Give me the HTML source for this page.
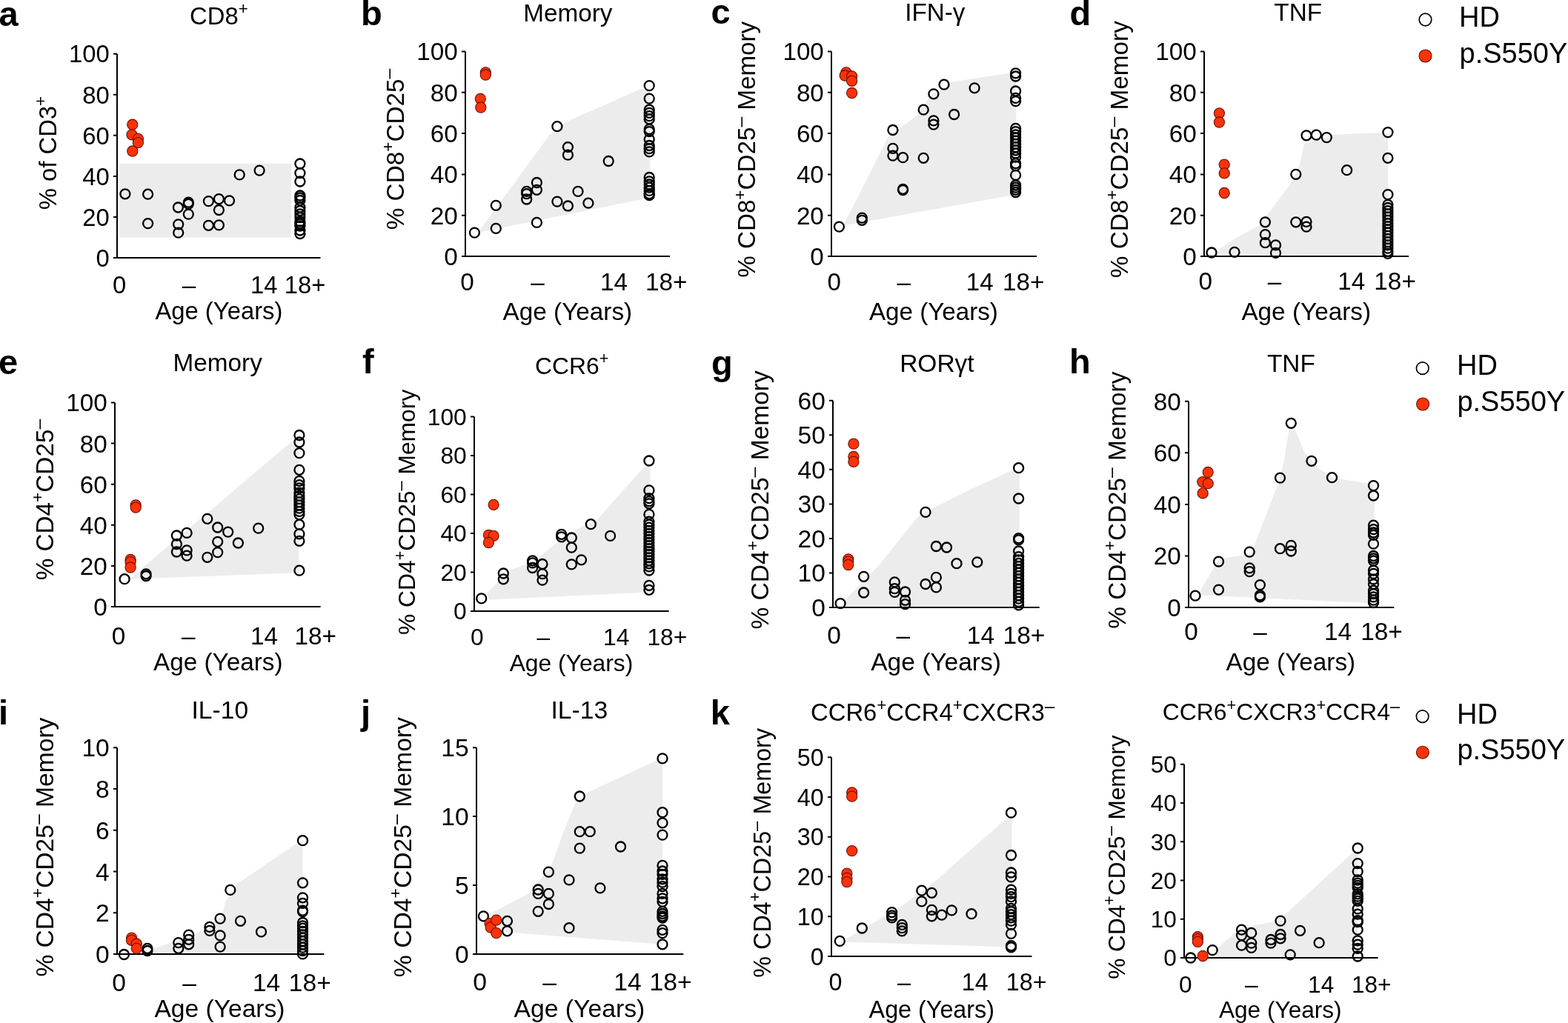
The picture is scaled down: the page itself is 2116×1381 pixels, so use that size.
<!DOCTYPE html>
<html><head><meta charset="utf-8"><title>Figure</title>
<style>
html,body{margin:0;padding:0;background:#fff;}
body{width:2116px;height:1381px;overflow:hidden;}
svg{display:block;}
svg{font-family:"Liberation Sans",Arial,sans-serif;font-size:33px;}
text{fill:#000;}
text.L{font-weight:bold;font-size:47px;}
text.G{font-size:38px;}
.ax{stroke:#000;stroke-width:2;fill:none;}
.w{fill:none;stroke:#000;stroke-width:2.3;}
.r{fill:#fa3309;stroke:#6a1006;stroke-width:1.1;}
</style></head>
<body>
<svg width="2116" height="1381" viewBox="0 0 2116 1381">
<rect width="2116" height="1381" fill="#fff"/>
<g id="pa" style="font-size:32.8px">
<polygon points="161.3,220.7 393.2,220.7 393.2,320.6 161.3,320.6" fill="#ececec"/>
<path d="M158 72.7V348M153.5 348H432.5" class="ax"/>
<path d="M153 348H158M153 292.9H158M153 237.9H158M153 182.8H158M153 127.8H158M153 72.7H158" class="ax"/>
<text x="147.8" y="359.7" text-anchor="end">0</text>
<text x="147.8" y="304.7" text-anchor="end">20</text>
<text x="147.8" y="249.6" text-anchor="end">40</text>
<text x="147.8" y="194.6" text-anchor="end">60</text>
<text x="147.8" y="139.5" text-anchor="end">80</text>
<text x="147.8" y="84.4" text-anchor="end">100</text>
<text x="161.2" y="396" text-anchor="middle">0</text>
<text x="255" y="396" text-anchor="middle">–</text>
<text x="356.3" y="396" text-anchor="middle">14</text>
<text x="411.5" y="396" text-anchor="middle">18+</text>
<text x="295.4" y="431.1" text-anchor="middle">Age (Years)</text>
<text x="295.4" y="32.8" text-anchor="middle" style="font-size:32.8px">CD8<tspan style="font-size:22.3px" dy="-13.8">+</tspan></text>
<text transform="translate(75.8 206.6) rotate(-90)" text-anchor="middle">% of CD3<tspan style="font-size:22.3px" dy="-13.8">+</tspan></text>
<text x="-1.5" y="34.6" class="L">a</text>
<circle cx="168.9" cy="261.8" r="6.5" class="w"/>
<circle cx="199.6" cy="262.2" r="6.5" class="w"/>
<circle cx="199.6" cy="301.6" r="6.5" class="w"/>
<circle cx="240.4" cy="280" r="6.5" class="w"/>
<circle cx="254.3" cy="273.2" r="6.5" class="w"/>
<circle cx="254.3" cy="275.4" r="6.5" class="w"/>
<circle cx="254.3" cy="289.1" r="6.5" class="w"/>
<circle cx="240.7" cy="302.8" r="6.5" class="w"/>
<circle cx="240.7" cy="314.2" r="6.5" class="w"/>
<circle cx="281.4" cy="271.6" r="6.5" class="w"/>
<circle cx="295.4" cy="268.6" r="6.5" class="w"/>
<circle cx="309.5" cy="270.9" r="6.5" class="w"/>
<circle cx="295.4" cy="283.5" r="6.5" class="w"/>
<circle cx="281.4" cy="304.3" r="6.5" class="w"/>
<circle cx="295.4" cy="303.9" r="6.5" class="w"/>
<circle cx="323.2" cy="235.9" r="6.5" class="w"/>
<circle cx="350.1" cy="230.1" r="6.5" class="w"/>
<circle cx="404.9" cy="221" r="6.5" class="w"/>
<circle cx="404.9" cy="233.6" r="6.5" class="w"/>
<circle cx="404.9" cy="245" r="6.5" class="w"/>
<circle cx="404.9" cy="264" r="6.5" class="w"/>
<circle cx="404.9" cy="267" r="6.5" class="w"/>
<circle cx="404.9" cy="270.5" r="6.5" class="w"/>
<circle cx="404.9" cy="280" r="6.5" class="w"/>
<circle cx="404.9" cy="284.5" r="6.5" class="w"/>
<circle cx="404.9" cy="289" r="6.5" class="w"/>
<circle cx="404.9" cy="293.5" r="6.5" class="w"/>
<circle cx="404.9" cy="299" r="6.5" class="w"/>
<circle cx="404.9" cy="302" r="6.5" class="w"/>
<circle cx="404.9" cy="305" r="6.5" class="w"/>
<circle cx="404.9" cy="311" r="6.5" class="w"/>
<circle cx="404.9" cy="315.5" r="6.5" class="w"/>
<circle cx="178.8" cy="168.2" r="7.1" class="r"/>
<circle cx="178" cy="181.9" r="7.1" class="r"/>
<circle cx="186.4" cy="187.3" r="7.1" class="r"/>
<circle cx="186.4" cy="192.6" r="7.1" class="r"/>
<circle cx="178.8" cy="204" r="7.1" class="r"/>
</g>
<g id="pb" style="font-size:33.3px">
<polygon points="647.3,311 741.8,181.8 762.8,165 865.7,119.8 877.2,123 877.2,266.8 649.4,313" fill="#ececec"/>
<path d="M628 69.4V346M623.5 346H904" class="ax"/>
<path d="M623 346H628M623 290.7H628M623 235.4H628M623 180H628M623 124.7H628M623 69.4H628" class="ax"/>
<text x="617.8" y="357.9" text-anchor="end">0</text>
<text x="617.8" y="302.6" text-anchor="end">20</text>
<text x="617.8" y="247.3" text-anchor="end">40</text>
<text x="617.8" y="192" text-anchor="end">60</text>
<text x="617.8" y="136.6" text-anchor="end">80</text>
<text x="617.8" y="81.3" text-anchor="end">100</text>
<text x="630.4" y="391.8" text-anchor="middle">0</text>
<text x="725.4" y="391.8" text-anchor="middle">–</text>
<text x="828.6" y="391.8" text-anchor="middle">14</text>
<text x="899.3" y="391.8" text-anchor="middle">18+</text>
<text x="765.9" y="431.5" text-anchor="middle">Age (Years)</text>
<text x="766.3" y="28.6" text-anchor="middle" style="font-size:33.3px">Memory</text>
<text transform="translate(544.7 201.5) rotate(-90)" text-anchor="middle">% CD8<tspan style="font-size:22.6px" dy="-14.0">+</tspan><tspan dy="14.0">CD25</tspan><tspan style="font-size:24.6px" dy="-12.3">–</tspan></text>
<text x="487" y="33.9" class="L">b</text>
<circle cx="640.4" cy="314.1" r="6.5" class="w"/>
<circle cx="669.3" cy="277.3" r="6.5" class="w"/>
<circle cx="669.3" cy="308.4" r="6.5" class="w"/>
<circle cx="710.7" cy="258.4" r="6.5" class="w"/>
<circle cx="710.7" cy="261.6" r="6.5" class="w"/>
<circle cx="710.7" cy="269" r="6.5" class="w"/>
<circle cx="724.4" cy="246.5" r="6.5" class="w"/>
<circle cx="724.4" cy="256.3" r="6.5" class="w"/>
<circle cx="724.4" cy="300.4" r="6.5" class="w"/>
<circle cx="751.9" cy="170.7" r="6.5" class="w"/>
<circle cx="751.9" cy="272.1" r="6.5" class="w"/>
<circle cx="766.4" cy="198.6" r="6.5" class="w"/>
<circle cx="766.4" cy="209.1" r="6.5" class="w"/>
<circle cx="766.4" cy="278" r="6.5" class="w"/>
<circle cx="780" cy="258.4" r="6.5" class="w"/>
<circle cx="793.9" cy="274.2" r="6.5" class="w"/>
<circle cx="821.2" cy="217.5" r="6.5" class="w"/>
<circle cx="876.2" cy="115.6" r="6.5" class="w"/>
<circle cx="876.2" cy="133.1" r="6.5" class="w"/>
<circle cx="876.2" cy="148.2" r="6.5" class="w"/>
<circle cx="876.2" cy="152.4" r="6.5" class="w"/>
<circle cx="876.2" cy="156.6" r="6.5" class="w"/>
<circle cx="876.2" cy="160.8" r="6.5" class="w"/>
<circle cx="876.2" cy="174.4" r="6.5" class="w"/>
<circle cx="876.2" cy="177.6" r="6.5" class="w"/>
<circle cx="876.2" cy="188.1" r="6.5" class="w"/>
<circle cx="876.2" cy="196.5" r="6.5" class="w"/>
<circle cx="876.2" cy="200.7" r="6.5" class="w"/>
<circle cx="876.2" cy="204.9" r="6.5" class="w"/>
<circle cx="876.2" cy="239.5" r="6.5" class="w"/>
<circle cx="876.2" cy="244.8" r="6.5" class="w"/>
<circle cx="876.2" cy="249" r="6.5" class="w"/>
<circle cx="876.2" cy="253.2" r="6.5" class="w"/>
<circle cx="876.2" cy="257.4" r="6.5" class="w"/>
<circle cx="876.2" cy="261.6" r="6.5" class="w"/>
<circle cx="876.2" cy="263.7" r="6.5" class="w"/>
<circle cx="655.3" cy="97.8" r="7.1" class="r"/>
<circle cx="655.3" cy="101" r="7.1" class="r"/>
<circle cx="648.3" cy="133.5" r="7.1" class="r"/>
<circle cx="648.8" cy="145" r="7.1" class="r"/>
</g>
<g id="pc" style="font-size:33.2px">
<polygon points="1138.1,304.6 1199,183.9 1236.8,156.6 1255.7,129.3 1285.1,110.4 1361.7,98.8 1371.2,102 1371.2,262.6" fill="#ececec"/>
<path d="M1122 69.4V346M1117.5 346H1399" class="ax"/>
<path d="M1117 346H1122M1117 290.7H1122M1117 235.4H1122M1117 180H1122M1117 124.7H1122M1117 69.4H1122" class="ax"/>
<text x="1111.8" y="357.9" text-anchor="end">0</text>
<text x="1111.8" y="302.6" text-anchor="end">20</text>
<text x="1111.8" y="247.2" text-anchor="end">40</text>
<text x="1111.8" y="191.9" text-anchor="end">60</text>
<text x="1111.8" y="136.6" text-anchor="end">80</text>
<text x="1111.8" y="81.3" text-anchor="end">100</text>
<text x="1125.7" y="391.8" text-anchor="middle">0</text>
<text x="1219.7" y="391.8" text-anchor="middle">–</text>
<text x="1322.2" y="391.8" text-anchor="middle">14</text>
<text x="1381.2" y="391.8" text-anchor="middle">18+</text>
<text x="1259.9" y="431.5" text-anchor="middle">Age (Years)</text>
<text x="1261.8" y="28.4" text-anchor="middle" style="font-size:33.2px">IFN-γ</text>
<text transform="translate(1019.4 201.8) rotate(-90)" text-anchor="middle">% CD8<tspan style="font-size:22.6px" dy="-13.9">+</tspan><tspan dy="13.9">CD25</tspan><tspan style="font-size:24.6px" dy="-12.3">–</tspan><tspan dy="12.3"> Memory</tspan></text>
<text x="959.5" y="31.6" class="L">c</text>
<circle cx="1132.4" cy="306.1" r="6.5" class="w"/>
<circle cx="1163.3" cy="294.1" r="6.5" class="w"/>
<circle cx="1163.3" cy="297.3" r="6.5" class="w"/>
<circle cx="1204.9" cy="175.5" r="6.5" class="w"/>
<circle cx="1204.9" cy="200.3" r="6.5" class="w"/>
<circle cx="1204.9" cy="210.1" r="6.5" class="w"/>
<circle cx="1218.5" cy="212.7" r="6.5" class="w"/>
<circle cx="1218.5" cy="255.3" r="6.5" class="w"/>
<circle cx="1218.5" cy="256.5" r="6.5" class="w"/>
<circle cx="1246.2" cy="148.2" r="6.5" class="w"/>
<circle cx="1246.2" cy="213.3" r="6.5" class="w"/>
<circle cx="1259.9" cy="126.8" r="6.5" class="w"/>
<circle cx="1259.9" cy="162.9" r="6.5" class="w"/>
<circle cx="1259.9" cy="168.1" r="6.5" class="w"/>
<circle cx="1274" cy="114.2" r="6.5" class="w"/>
<circle cx="1287.6" cy="154.5" r="6.5" class="w"/>
<circle cx="1315.1" cy="118.8" r="6.5" class="w"/>
<circle cx="1370.6" cy="98.8" r="6.5" class="w"/>
<circle cx="1370.6" cy="103" r="6.5" class="w"/>
<circle cx="1370.6" cy="123" r="6.5" class="w"/>
<circle cx="1370.6" cy="132.4" r="6.5" class="w"/>
<circle cx="1370.6" cy="136.6" r="6.5" class="w"/>
<circle cx="1370.6" cy="173.4" r="6.5" class="w"/>
<circle cx="1370.6" cy="177.6" r="6.5" class="w"/>
<circle cx="1370.6" cy="181.8" r="6.5" class="w"/>
<circle cx="1370.6" cy="186" r="6.5" class="w"/>
<circle cx="1370.6" cy="190.2" r="6.5" class="w"/>
<circle cx="1370.6" cy="194.4" r="6.5" class="w"/>
<circle cx="1370.6" cy="198.6" r="6.5" class="w"/>
<circle cx="1370.6" cy="202.8" r="6.5" class="w"/>
<circle cx="1370.6" cy="207" r="6.5" class="w"/>
<circle cx="1370.6" cy="212.2" r="6.5" class="w"/>
<circle cx="1370.6" cy="220.6" r="6.5" class="w"/>
<circle cx="1370.6" cy="223.8" r="6.5" class="w"/>
<circle cx="1370.6" cy="236.4" r="6.5" class="w"/>
<circle cx="1370.6" cy="250" r="6.5" class="w"/>
<circle cx="1370.6" cy="253.2" r="6.5" class="w"/>
<circle cx="1370.6" cy="256.3" r="6.5" class="w"/>
<circle cx="1370.6" cy="259.5" r="6.5" class="w"/>
<circle cx="1141.9" cy="97.8" r="7.1" class="r"/>
<circle cx="1140.2" cy="102" r="7.1" class="r"/>
<circle cx="1149.6" cy="103" r="7.1" class="r"/>
<circle cx="1149.6" cy="109.3" r="7.1" class="r"/>
<circle cx="1149.6" cy="125.5" r="7.1" class="r"/>
</g>
<g id="pd" style="font-size:33.3px">
<polygon points="1642.3,342.4 1644.4,337.2 1667.5,321.4 1699,304.6 1715.8,282.6 1741,249 1753.6,223.8 1759.9,194.4 1799.8,181.8 1860.7,179.3 1873.3,180.7 1873.3,249 1873.3,343.5" fill="#ececec"/>
<path d="M1625 69.4V346M1620.5 346H1901" class="ax"/>
<path d="M1620 346H1625M1620 290.7H1625M1620 235.4H1625M1620 180H1625M1620 124.7H1625M1620 69.4H1625" class="ax"/>
<text x="1614.8" y="357.9" text-anchor="end">0</text>
<text x="1614.8" y="302.6" text-anchor="end">20</text>
<text x="1614.8" y="247.3" text-anchor="end">40</text>
<text x="1614.8" y="192" text-anchor="end">60</text>
<text x="1614.8" y="136.6" text-anchor="end">80</text>
<text x="1614.8" y="81.3" text-anchor="end">100</text>
<text x="1626.8" y="390.9" text-anchor="middle">0</text>
<text x="1719.9" y="390.9" text-anchor="middle">–</text>
<text x="1823.8" y="390.9" text-anchor="middle">14</text>
<text x="1882.6" y="390.9" text-anchor="middle">18+</text>
<text x="1762.7" y="431.5" text-anchor="middle">Age (Years)</text>
<text x="1751.7" y="28.4" text-anchor="middle" style="font-size:33.3px">TNF</text>
<text transform="translate(1522.4 201.7) rotate(-90)" text-anchor="middle">% CD8<tspan style="font-size:22.6px" dy="-14.0">+</tspan><tspan dy="14.0">CD25</tspan><tspan style="font-size:24.6px" dy="-12.3">–</tspan><tspan dy="12.3"> Memory</tspan></text>
<text x="1443.5" y="33.9" class="L">d</text>
<circle cx="1635" cy="341" r="6.5" class="w"/>
<circle cx="1666" cy="340.3" r="6.5" class="w"/>
<circle cx="1707.4" cy="299.8" r="6.5" class="w"/>
<circle cx="1707.4" cy="316.6" r="6.5" class="w"/>
<circle cx="1707.4" cy="327.7" r="6.5" class="w"/>
<circle cx="1721.5" cy="330.9" r="6.5" class="w"/>
<circle cx="1721.5" cy="341.4" r="6.5" class="w"/>
<circle cx="1748.8" cy="235.3" r="6.5" class="w"/>
<circle cx="1748.8" cy="299.8" r="6.5" class="w"/>
<circle cx="1763" cy="182.8" r="6.5" class="w"/>
<circle cx="1763" cy="299.4" r="6.5" class="w"/>
<circle cx="1763" cy="306.1" r="6.5" class="w"/>
<circle cx="1776.3" cy="182.2" r="6.5" class="w"/>
<circle cx="1790.3" cy="185.6" r="6.5" class="w"/>
<circle cx="1817.6" cy="229.7" r="6.5" class="w"/>
<circle cx="1872.9" cy="178.6" r="6.5" class="w"/>
<circle cx="1872.9" cy="213.3" r="6.5" class="w"/>
<circle cx="1872.9" cy="262.6" r="6.5" class="w"/>
<circle cx="1872.9" cy="276.3" r="6.5" class="w"/>
<circle cx="1872.9" cy="280.5" r="6.5" class="w"/>
<circle cx="1872.9" cy="284.7" r="6.5" class="w"/>
<circle cx="1872.9" cy="288.9" r="6.5" class="w"/>
<circle cx="1872.9" cy="293.1" r="6.5" class="w"/>
<circle cx="1872.9" cy="297.3" r="6.5" class="w"/>
<circle cx="1872.9" cy="301.5" r="6.5" class="w"/>
<circle cx="1872.9" cy="305.7" r="6.5" class="w"/>
<circle cx="1872.9" cy="309.9" r="6.5" class="w"/>
<circle cx="1872.9" cy="314.1" r="6.5" class="w"/>
<circle cx="1872.9" cy="318.3" r="6.5" class="w"/>
<circle cx="1872.9" cy="322.5" r="6.5" class="w"/>
<circle cx="1872.9" cy="326.7" r="6.5" class="w"/>
<circle cx="1872.9" cy="330.9" r="6.5" class="w"/>
<circle cx="1872.9" cy="335.1" r="6.5" class="w"/>
<circle cx="1872.9" cy="339.3" r="6.5" class="w"/>
<circle cx="1872.9" cy="342.4" r="6.5" class="w"/>
<circle cx="1645.4" cy="152.8" r="7.1" class="r"/>
<circle cx="1645.4" cy="165" r="7.1" class="r"/>
<circle cx="1652.2" cy="222.1" r="7.1" class="r"/>
<circle cx="1652.2" cy="233.9" r="7.1" class="r"/>
<circle cx="1652.2" cy="260.5" r="7.1" class="r"/>
</g>
<g id="pe" style="font-size:33.3px">
<polygon points="174.4,781.7 393.8,595.9 403.3,598 403.3,773.3" fill="#ececec"/>
<path d="M155 543.5V819M150.5 819H432.6" class="ax"/>
<path d="M150 819H155M150 763.9H155M150 708.8H155M150 653.7H155M150 598.6H155M150 543.5H155" class="ax"/>
<text x="144.8" y="830.9" text-anchor="end">0</text>
<text x="144.8" y="775.8" text-anchor="end">20</text>
<text x="144.8" y="720.7" text-anchor="end">40</text>
<text x="144.8" y="665.6" text-anchor="end">60</text>
<text x="144.8" y="610.5" text-anchor="end">80</text>
<text x="144.8" y="555.4" text-anchor="end">100</text>
<text x="160" y="870.1" text-anchor="middle">0</text>
<text x="254.2" y="870.1" text-anchor="middle">–</text>
<text x="356.6" y="870.1" text-anchor="middle">14</text>
<text x="425.8" y="870.1" text-anchor="middle">18+</text>
<text x="294.3" y="904.9" text-anchor="middle">Age (Years)</text>
<text x="293.7" y="501.4" text-anchor="middle" style="font-size:33.3px">Memory</text>
<text transform="translate(72.1 674.6) rotate(-90)" text-anchor="middle">% CD4<tspan style="font-size:22.6px" dy="-14.0">+</tspan><tspan dy="14.0">CD25</tspan><tspan style="font-size:24.6px" dy="-12.3">–</tspan></text>
<text x="-2" y="504.5" class="L">e</text>
<circle cx="168.1" cy="781.7" r="6.5" class="w"/>
<circle cx="197.1" cy="774.8" r="6.5" class="w"/>
<circle cx="197.1" cy="777.5" r="6.5" class="w"/>
<circle cx="238.4" cy="723" r="6.5" class="w"/>
<circle cx="238.4" cy="734.5" r="6.5" class="w"/>
<circle cx="238.4" cy="745" r="6.5" class="w"/>
<circle cx="252.1" cy="719.4" r="6.5" class="w"/>
<circle cx="252.1" cy="742.9" r="6.5" class="w"/>
<circle cx="252.1" cy="750.2" r="6.5" class="w"/>
<circle cx="279.8" cy="700.3" r="6.5" class="w"/>
<circle cx="279.8" cy="752.3" r="6.5" class="w"/>
<circle cx="293.7" cy="712" r="6.5" class="w"/>
<circle cx="293.7" cy="731.3" r="6.5" class="w"/>
<circle cx="293.7" cy="745.6" r="6.5" class="w"/>
<circle cx="307.7" cy="718.1" r="6.5" class="w"/>
<circle cx="321.4" cy="733" r="6.5" class="w"/>
<circle cx="348.7" cy="713.1" r="6.5" class="w"/>
<circle cx="403.9" cy="587.5" r="6.5" class="w"/>
<circle cx="403.9" cy="597" r="6.5" class="w"/>
<circle cx="403.9" cy="611.6" r="6.5" class="w"/>
<circle cx="403.9" cy="634.3" r="6.5" class="w"/>
<circle cx="403.9" cy="649.4" r="6.5" class="w"/>
<circle cx="403.9" cy="654.7" r="6.5" class="w"/>
<circle cx="403.9" cy="658.9" r="6.5" class="w"/>
<circle cx="403.9" cy="665.2" r="6.5" class="w"/>
<circle cx="403.9" cy="669.4" r="6.5" class="w"/>
<circle cx="403.9" cy="673.6" r="6.5" class="w"/>
<circle cx="403.9" cy="677.8" r="6.5" class="w"/>
<circle cx="403.9" cy="682" r="6.5" class="w"/>
<circle cx="403.9" cy="686.2" r="6.5" class="w"/>
<circle cx="403.9" cy="690.4" r="6.5" class="w"/>
<circle cx="403.9" cy="694.6" r="6.5" class="w"/>
<circle cx="403.9" cy="708.2" r="6.5" class="w"/>
<circle cx="403.9" cy="720.8" r="6.5" class="w"/>
<circle cx="403.9" cy="730.3" r="6.5" class="w"/>
<circle cx="403.9" cy="770.2" r="6.5" class="w"/>
<circle cx="183.2" cy="682" r="7.1" class="r"/>
<circle cx="183.2" cy="685.1" r="7.1" class="r"/>
<circle cx="176.1" cy="755.5" r="7.1" class="r"/>
<circle cx="176.1" cy="758.6" r="7.1" class="r"/>
<circle cx="176.1" cy="766" r="7.1" class="r"/>
</g>
<g id="pf" style="font-size:31.8px">
<polygon points="656.4,801.4 688.8,769 719.2,758.8 751.7,732.5 784.1,711.2 806.4,701.1 869.3,630.1 877.4,628.1 877.4,799.4 660.4,809.5" fill="#ececec"/>
<path d="M640 562.5V825M635.5 825H902.6" class="ax"/>
<path d="M635 825H640M635 772.5H640M635 720H640M635 667.5H640M635 615H640M635 562.5H640" class="ax"/>
<text x="629.8" y="836.4" text-anchor="end">0</text>
<text x="629.8" y="783.9" text-anchor="end">20</text>
<text x="629.8" y="731.4" text-anchor="end">40</text>
<text x="629.8" y="678.9" text-anchor="end">60</text>
<text x="629.8" y="626.4" text-anchor="end">80</text>
<text x="629.8" y="573.9" text-anchor="end">100</text>
<text x="643.9" y="871" text-anchor="middle">0</text>
<text x="733.3" y="871" text-anchor="middle">–</text>
<text x="831.7" y="871" text-anchor="middle">14</text>
<text x="900.4" y="871" text-anchor="middle">18+</text>
<text x="771" y="905.5" text-anchor="middle">Age (Years)</text>
<text x="771.7" y="504.6" text-anchor="middle" style="font-size:31.8px">CCR6<tspan style="font-size:21.6px" dy="-13.4">+</tspan></text>
<text transform="translate(560 691.4) rotate(-90)" text-anchor="middle">% CD4<tspan style="font-size:21.6px" dy="-13.4">+</tspan><tspan dy="13.4">CD25</tspan><tspan style="font-size:23.5px" dy="-11.8">–</tspan><tspan dy="11.8"> Memory</tspan></text>
<text x="489" y="503.9" class="L">f</text>
<circle cx="649.7" cy="807.9" r="6.5" class="w"/>
<circle cx="679.3" cy="774" r="6.5" class="w"/>
<circle cx="679.3" cy="781.8" r="6.5" class="w"/>
<circle cx="718.6" cy="756.8" r="6.5" class="w"/>
<circle cx="718.6" cy="759.9" r="6.5" class="w"/>
<circle cx="718.6" cy="766.5" r="6.5" class="w"/>
<circle cx="732" cy="761.5" r="6.5" class="w"/>
<circle cx="732" cy="774.7" r="6.5" class="w"/>
<circle cx="732" cy="783.2" r="6.5" class="w"/>
<circle cx="757.7" cy="721.3" r="6.5" class="w"/>
<circle cx="757.7" cy="724.8" r="6.5" class="w"/>
<circle cx="771.3" cy="726" r="6.5" class="w"/>
<circle cx="771.3" cy="739.2" r="6.5" class="w"/>
<circle cx="771.3" cy="761.9" r="6.5" class="w"/>
<circle cx="784.5" cy="755.8" r="6.5" class="w"/>
<circle cx="797.3" cy="707.7" r="6.5" class="w"/>
<circle cx="823.6" cy="723.4" r="6.5" class="w"/>
<circle cx="875.9" cy="622" r="6.5" class="w"/>
<circle cx="875.9" cy="661.9" r="6.5" class="w"/>
<circle cx="875.9" cy="672.7" r="6.5" class="w"/>
<circle cx="875.9" cy="676.7" r="6.5" class="w"/>
<circle cx="875.9" cy="679.8" r="6.5" class="w"/>
<circle cx="875.9" cy="694.4" r="6.5" class="w"/>
<circle cx="875.9" cy="704.1" r="6.5" class="w"/>
<circle cx="875.9" cy="708.2" r="6.5" class="w"/>
<circle cx="875.9" cy="712.2" r="6.5" class="w"/>
<circle cx="875.9" cy="716.3" r="6.5" class="w"/>
<circle cx="875.9" cy="720.3" r="6.5" class="w"/>
<circle cx="875.9" cy="724.4" r="6.5" class="w"/>
<circle cx="875.9" cy="728.4" r="6.5" class="w"/>
<circle cx="875.9" cy="732.5" r="6.5" class="w"/>
<circle cx="875.9" cy="736.5" r="6.5" class="w"/>
<circle cx="875.9" cy="740.6" r="6.5" class="w"/>
<circle cx="875.9" cy="744.6" r="6.5" class="w"/>
<circle cx="875.9" cy="748.7" r="6.5" class="w"/>
<circle cx="875.9" cy="752.8" r="6.5" class="w"/>
<circle cx="875.9" cy="756.8" r="6.5" class="w"/>
<circle cx="875.9" cy="760.9" r="6.5" class="w"/>
<circle cx="875.9" cy="764.9" r="6.5" class="w"/>
<circle cx="875.9" cy="770" r="6.5" class="w"/>
<circle cx="875.9" cy="790.3" r="6.5" class="w"/>
<circle cx="875.9" cy="796.3" r="6.5" class="w"/>
<circle cx="666.1" cy="681.4" r="7.1" class="r"/>
<circle cx="659.4" cy="722.3" r="7.1" class="r"/>
<circle cx="666.1" cy="723.4" r="7.1" class="r"/>
<circle cx="659.4" cy="732.5" r="7.1" class="r"/>
</g>
<g id="pg" style="font-size:33.5px">
<polygon points="1138.9,818.9 1138.9,811.3 1186.7,762.5 1238.8,697.3 1262.7,684.2 1310.5,660.3 1362.7,636.5 1375.7,634.3 1375.7,818.9" fill="#ececec"/>
<path d="M1124 540.7V820M1119.5 820H1402.7" class="ax"/>
<path d="M1119 820H1124M1119 773.5H1124M1119 726.9H1124M1119 680.4H1124M1119 633.8H1124M1119 587.2H1124M1119 540.7H1124" class="ax"/>
<text x="1113.8" y="832" text-anchor="end">0</text>
<text x="1113.8" y="785.4" text-anchor="end">10</text>
<text x="1113.8" y="738.9" text-anchor="end">20</text>
<text x="1113.8" y="692.3" text-anchor="end">30</text>
<text x="1113.8" y="645.8" text-anchor="end">40</text>
<text x="1113.8" y="599.2" text-anchor="end">50</text>
<text x="1113.8" y="552.7" text-anchor="end">60</text>
<text x="1125.6" y="868.9" text-anchor="middle">0</text>
<text x="1218.9" y="868.9" text-anchor="middle">–</text>
<text x="1323.4" y="868.9" text-anchor="middle">14</text>
<text x="1382" y="868.9" text-anchor="middle">18+</text>
<text x="1263.1" y="905.2" text-anchor="middle">Age (Years)</text>
<text x="1264.4" y="502.3" text-anchor="middle" style="font-size:33.5px">RORγt</text>
<text transform="translate(1036.9 674.9) rotate(-90)" text-anchor="middle">% CD4<tspan style="font-size:22.8px" dy="-14.1">+</tspan><tspan dy="14.1">CD25</tspan><tspan style="font-size:24.8px" dy="-12.4">–</tspan><tspan dy="12.4"> Memory</tspan></text>
<text x="960" y="505.5" class="L">g</text>
<circle cx="1134.1" cy="814.6" r="6.5" class="w"/>
<circle cx="1165.6" cy="778.3" r="6.5" class="w"/>
<circle cx="1165.6" cy="800" r="6.5" class="w"/>
<circle cx="1207.3" cy="785.9" r="6.5" class="w"/>
<circle cx="1207.3" cy="794.6" r="6.5" class="w"/>
<circle cx="1207.3" cy="799.4" r="6.5" class="w"/>
<circle cx="1221.5" cy="799" r="6.5" class="w"/>
<circle cx="1221.5" cy="810.3" r="6.5" class="w"/>
<circle cx="1221.5" cy="815.7" r="6.5" class="w"/>
<circle cx="1249" cy="691.4" r="6.5" class="w"/>
<circle cx="1249" cy="788.5" r="6.5" class="w"/>
<circle cx="1263.4" cy="737.5" r="6.5" class="w"/>
<circle cx="1263.4" cy="779.4" r="6.5" class="w"/>
<circle cx="1263.4" cy="792.9" r="6.5" class="w"/>
<circle cx="1277.5" cy="739" r="6.5" class="w"/>
<circle cx="1291" cy="760.7" r="6.5" class="w"/>
<circle cx="1318.8" cy="758.8" r="6.5" class="w"/>
<circle cx="1374.6" cy="631.7" r="6.5" class="w"/>
<circle cx="1374.6" cy="673" r="6.5" class="w"/>
<circle cx="1374.6" cy="726.6" r="6.5" class="w"/>
<circle cx="1374.6" cy="728.8" r="6.5" class="w"/>
<circle cx="1374.6" cy="744" r="6.5" class="w"/>
<circle cx="1374.6" cy="751.6" r="6.5" class="w"/>
<circle cx="1374.6" cy="755.9" r="6.5" class="w"/>
<circle cx="1374.6" cy="760.3" r="6.5" class="w"/>
<circle cx="1374.6" cy="764.6" r="6.5" class="w"/>
<circle cx="1374.6" cy="769" r="6.5" class="w"/>
<circle cx="1374.6" cy="773.3" r="6.5" class="w"/>
<circle cx="1374.6" cy="777.7" r="6.5" class="w"/>
<circle cx="1374.6" cy="782" r="6.5" class="w"/>
<circle cx="1374.6" cy="786.4" r="6.5" class="w"/>
<circle cx="1374.6" cy="790.7" r="6.5" class="w"/>
<circle cx="1374.6" cy="795" r="6.5" class="w"/>
<circle cx="1374.6" cy="799.4" r="6.5" class="w"/>
<circle cx="1374.6" cy="803.7" r="6.5" class="w"/>
<circle cx="1374.6" cy="808.1" r="6.5" class="w"/>
<circle cx="1374.6" cy="812.4" r="6.5" class="w"/>
<circle cx="1374.6" cy="816.8" r="6.5" class="w"/>
<circle cx="1151.9" cy="599.1" r="7.1" class="r"/>
<circle cx="1151.9" cy="616.5" r="7.1" class="r"/>
<circle cx="1151.9" cy="623.4" r="7.1" class="r"/>
<circle cx="1144.8" cy="754.9" r="7.1" class="r"/>
<circle cx="1144.8" cy="758.1" r="7.1" class="r"/>
<circle cx="1144.8" cy="762.5" r="7.1" class="r"/>
</g>
<g id="ph" style="font-size:33.3px">
<polygon points="1618.9,803.3 1620,797.2 1645,754.9 1688.4,747.2 1725.3,651.7 1733,621.2 1739.5,578.9 1747.1,577.8 1760.1,610.4 1779.7,632.1 1799.2,645.1 1853.5,653.8 1854.6,682.1 1854.6,814.6" fill="#ececec"/>
<path d="M1604 541.8V820M1599.5 820H1881.3" class="ax"/>
<path d="M1599 820H1604M1599 750.5H1604M1599 680.9H1604M1599 611.3H1604M1599 541.8H1604" class="ax"/>
<text x="1593.8" y="831.9" text-anchor="end">0</text>
<text x="1593.8" y="762.4" text-anchor="end">20</text>
<text x="1593.8" y="692.8" text-anchor="end">40</text>
<text x="1593.8" y="623.3" text-anchor="end">60</text>
<text x="1593.8" y="553.7" text-anchor="end">80</text>
<text x="1607.5" y="864.1" text-anchor="middle">0</text>
<text x="1700.5" y="864.1" text-anchor="middle">–</text>
<text x="1805.4" y="864.1" text-anchor="middle">14</text>
<text x="1864.4" y="864.1" text-anchor="middle">18+</text>
<text x="1741.9" y="905.2" text-anchor="middle">Age (Years)</text>
<text x="1742.4" y="502.4" text-anchor="middle" style="font-size:33.3px">TNF</text>
<text transform="translate(1518.9 675.2) rotate(-90)" text-anchor="middle">% CD4<tspan style="font-size:22.6px" dy="-14.0">+</tspan><tspan dy="14.0">CD25</tspan><tspan style="font-size:24.6px" dy="-12.3">–</tspan><tspan dy="12.3"> Memory</tspan></text>
<text x="1443" y="504.1" class="L">h</text>
<circle cx="1613" cy="804.2" r="6.5" class="w"/>
<circle cx="1644.5" cy="758.1" r="6.5" class="w"/>
<circle cx="1644.5" cy="796.1" r="6.5" class="w"/>
<circle cx="1686.2" cy="745.1" r="6.5" class="w"/>
<circle cx="1686.2" cy="766.8" r="6.5" class="w"/>
<circle cx="1686.2" cy="771.6" r="6.5" class="w"/>
<circle cx="1700.4" cy="789.6" r="6.5" class="w"/>
<circle cx="1700.4" cy="803.7" r="6.5" class="w"/>
<circle cx="1700.4" cy="805.9" r="6.5" class="w"/>
<circle cx="1727.5" cy="645.1" r="6.5" class="w"/>
<circle cx="1727.5" cy="740.7" r="6.5" class="w"/>
<circle cx="1742.3" cy="571.3" r="6.5" class="w"/>
<circle cx="1742.3" cy="736.4" r="6.5" class="w"/>
<circle cx="1742.3" cy="744" r="6.5" class="w"/>
<circle cx="1769.9" cy="622.3" r="6.5" class="w"/>
<circle cx="1797.5" cy="644.7" r="6.5" class="w"/>
<circle cx="1853.5" cy="655.6" r="6.5" class="w"/>
<circle cx="1853.5" cy="669" r="6.5" class="w"/>
<circle cx="1853.5" cy="709.2" r="6.5" class="w"/>
<circle cx="1853.5" cy="714.7" r="6.5" class="w"/>
<circle cx="1853.5" cy="719" r="6.5" class="w"/>
<circle cx="1853.5" cy="722.3" r="6.5" class="w"/>
<circle cx="1853.5" cy="734.2" r="6.5" class="w"/>
<circle cx="1853.5" cy="750.5" r="6.5" class="w"/>
<circle cx="1853.5" cy="753.8" r="6.5" class="w"/>
<circle cx="1853.5" cy="757" r="6.5" class="w"/>
<circle cx="1853.5" cy="770" r="6.5" class="w"/>
<circle cx="1853.5" cy="774.4" r="6.5" class="w"/>
<circle cx="1853.5" cy="782" r="6.5" class="w"/>
<circle cx="1853.5" cy="788.5" r="6.5" class="w"/>
<circle cx="1853.5" cy="797.2" r="6.5" class="w"/>
<circle cx="1853.5" cy="801.6" r="6.5" class="w"/>
<circle cx="1853.5" cy="805.9" r="6.5" class="w"/>
<circle cx="1853.5" cy="810.2" r="6.5" class="w"/>
<circle cx="1853.5" cy="813.5" r="6.5" class="w"/>
<circle cx="1630.2" cy="637.5" r="7.1" class="r"/>
<circle cx="1622.8" cy="650.6" r="7.1" class="r"/>
<circle cx="1630.2" cy="652.7" r="7.1" class="r"/>
<circle cx="1623.2" cy="665.8" r="7.1" class="r"/>
</g>
<g id="pi" style="font-size:33.6px">
<polygon points="204.3,1287.9 206.5,1280.3 215.2,1278.1 254.3,1264 282.5,1253.1 299.9,1234.6 304.2,1217.3 319.5,1193.4 399.8,1139 408.5,1136.9 408.5,1287.9" fill="#ececec"/>
<path d="M158 1009.2V1288M153.5 1288H437.4" class="ax"/>
<path d="M153 1288H158M153 1232.2H158M153 1176.5H158M153 1120.7H158M153 1065H158M153 1009.2H158" class="ax"/>
<text x="147.8" y="1300" text-anchor="end">0</text>
<text x="147.8" y="1244.3" text-anchor="end">2</text>
<text x="147.8" y="1188.5" text-anchor="end">4</text>
<text x="147.8" y="1132.7" text-anchor="end">6</text>
<text x="147.8" y="1077" text-anchor="end">8</text>
<text x="147.8" y="1021.2" text-anchor="end">10</text>
<text x="160.5" y="1337.8" text-anchor="middle">0</text>
<text x="255.7" y="1337.8" text-anchor="middle">–</text>
<text x="359.6" y="1337.8" text-anchor="middle">14</text>
<text x="418.3" y="1337.8" text-anchor="middle">18+</text>
<text x="296.5" y="1372.6" text-anchor="middle">Age (Years)</text>
<text x="296.8" y="969.5" text-anchor="middle" style="font-size:33.6px">IL-10</text>
<text transform="translate(71.9 1143.6) rotate(-90)" text-anchor="middle">% CD4<tspan style="font-size:22.8px" dy="-14.1">+</tspan><tspan dy="14.1">CD25</tspan><tspan style="font-size:24.9px" dy="-12.4">–</tspan><tspan dy="12.4"> Memory</tspan></text>
<text x="-2" y="978.1" class="L">i</text>
<circle cx="167.4" cy="1288.5" r="6.5" class="w"/>
<circle cx="198.9" cy="1280.3" r="6.5" class="w"/>
<circle cx="198.9" cy="1283.5" r="6.5" class="w"/>
<circle cx="240.8" cy="1272.6" r="6.5" class="w"/>
<circle cx="240.8" cy="1280.3" r="6.5" class="w"/>
<circle cx="254.7" cy="1262.2" r="6.5" class="w"/>
<circle cx="254.7" cy="1268.3" r="6.5" class="w"/>
<circle cx="254.7" cy="1274.8" r="6.5" class="w"/>
<circle cx="282.9" cy="1251.4" r="6.5" class="w"/>
<circle cx="282.9" cy="1256.4" r="6.5" class="w"/>
<circle cx="297.1" cy="1240.1" r="6.5" class="w"/>
<circle cx="297.1" cy="1262.9" r="6.5" class="w"/>
<circle cx="297.1" cy="1278.1" r="6.5" class="w"/>
<circle cx="310.8" cy="1201.4" r="6.5" class="w"/>
<circle cx="324.5" cy="1243.3" r="6.5" class="w"/>
<circle cx="352.5" cy="1257.9" r="6.5" class="w"/>
<circle cx="408.5" cy="1134.7" r="6.5" class="w"/>
<circle cx="408.5" cy="1191.8" r="6.5" class="w"/>
<circle cx="408.5" cy="1211.8" r="6.5" class="w"/>
<circle cx="408.5" cy="1219.4" r="6.5" class="w"/>
<circle cx="408.5" cy="1229.2" r="6.5" class="w"/>
<circle cx="408.5" cy="1230.5" r="6.5" class="w"/>
<circle cx="408.5" cy="1245.5" r="6.5" class="w"/>
<circle cx="408.5" cy="1249.8" r="6.5" class="w"/>
<circle cx="408.5" cy="1253.1" r="6.5" class="w"/>
<circle cx="408.5" cy="1257.4" r="6.5" class="w"/>
<circle cx="408.5" cy="1261.8" r="6.5" class="w"/>
<circle cx="408.5" cy="1266.1" r="6.5" class="w"/>
<circle cx="408.5" cy="1270.5" r="6.5" class="w"/>
<circle cx="408.5" cy="1274.8" r="6.5" class="w"/>
<circle cx="408.5" cy="1279.2" r="6.5" class="w"/>
<circle cx="408.5" cy="1283.5" r="6.5" class="w"/>
<circle cx="408.5" cy="1287.9" r="6.5" class="w"/>
<circle cx="177.6" cy="1266.1" r="7.1" class="r"/>
<circle cx="177.6" cy="1269.4" r="7.1" class="r"/>
<circle cx="184.3" cy="1274.2" r="7.1" class="r"/>
<circle cx="184.3" cy="1280.3" r="7.1" class="r"/>
</g>
<g id="pj" style="font-size:33.7px">
<polygon points="661.1,1233.5 713.2,1206.4 743.6,1169.5 761,1121.7 776.2,1084.7 793.6,1069.5 882.7,1028.2 894,1026.1 894,1274.8 685,1258.5 663.2,1252" fill="#ececec"/>
<path d="M643 1009.2V1288M638.5 1288H922.3" class="ax"/>
<path d="M638 1288H643M638 1195.1H643M638 1102.1H643M638 1009.2H643" class="ax"/>
<text x="632.8" y="1300.1" text-anchor="end">0</text>
<text x="632.8" y="1207.1" text-anchor="end">5</text>
<text x="632.8" y="1114.2" text-anchor="end">10</text>
<text x="632.8" y="1021.3" text-anchor="end">15</text>
<text x="647.6" y="1337" text-anchor="middle">0</text>
<text x="741.7" y="1337" text-anchor="middle">–</text>
<text x="847" y="1337" text-anchor="middle">14</text>
<text x="905.2" y="1337" text-anchor="middle">18+</text>
<text x="781.9" y="1372.6" text-anchor="middle">Age (Years)</text>
<text x="781.9" y="969.5" text-anchor="middle" style="font-size:33.7px">IL-13</text>
<text transform="translate(555.2 1143.6) rotate(-90)" text-anchor="middle">% CD4<tspan style="font-size:22.9px" dy="-14.2">+</tspan><tspan dy="14.2">CD25</tspan><tspan style="font-size:24.9px" dy="-12.5">–</tspan><tspan dy="12.5"> Memory</tspan></text>
<text x="486.9" y="977.5" class="L">j</text>
<circle cx="652.4" cy="1236.8" r="6.5" class="w"/>
<circle cx="684.5" cy="1243.3" r="6.5" class="w"/>
<circle cx="684.5" cy="1256.8" r="6.5" class="w"/>
<circle cx="726.2" cy="1201" r="6.5" class="w"/>
<circle cx="726.2" cy="1206.4" r="6.5" class="w"/>
<circle cx="726.2" cy="1230.3" r="6.5" class="w"/>
<circle cx="740.4" cy="1177.1" r="6.5" class="w"/>
<circle cx="740.4" cy="1206.4" r="6.5" class="w"/>
<circle cx="740.4" cy="1220.5" r="6.5" class="w"/>
<circle cx="768" cy="1187.9" r="6.5" class="w"/>
<circle cx="768" cy="1252.7" r="6.5" class="w"/>
<circle cx="782.3" cy="1075" r="6.5" class="w"/>
<circle cx="782.3" cy="1122.7" r="6.5" class="w"/>
<circle cx="782.3" cy="1145.1" r="6.5" class="w"/>
<circle cx="796.2" cy="1122.7" r="6.5" class="w"/>
<circle cx="809.9" cy="1198.8" r="6.5" class="w"/>
<circle cx="837.5" cy="1143" r="6.5" class="w"/>
<circle cx="894" cy="1023.9" r="6.5" class="w"/>
<circle cx="894" cy="1096.7" r="6.5" class="w"/>
<circle cx="894" cy="1110.8" r="6.5" class="w"/>
<circle cx="894" cy="1127.1" r="6.5" class="w"/>
<circle cx="894" cy="1168.4" r="6.5" class="w"/>
<circle cx="894" cy="1176" r="6.5" class="w"/>
<circle cx="894" cy="1180.3" r="6.5" class="w"/>
<circle cx="894" cy="1186.8" r="6.5" class="w"/>
<circle cx="894" cy="1191.2" r="6.5" class="w"/>
<circle cx="894" cy="1196.6" r="6.5" class="w"/>
<circle cx="894" cy="1206.4" r="6.5" class="w"/>
<circle cx="894" cy="1212.9" r="6.5" class="w"/>
<circle cx="894" cy="1217.3" r="6.5" class="w"/>
<circle cx="894" cy="1230.3" r="6.5" class="w"/>
<circle cx="894" cy="1233.5" r="6.5" class="w"/>
<circle cx="894" cy="1236.8" r="6.5" class="w"/>
<circle cx="894" cy="1239" r="6.5" class="w"/>
<circle cx="894" cy="1255.3" r="6.5" class="w"/>
<circle cx="894" cy="1259.6" r="6.5" class="w"/>
<circle cx="894" cy="1274.8" r="6.5" class="w"/>
<circle cx="661.1" cy="1246.6" r="7.1" class="r"/>
<circle cx="662.2" cy="1252" r="7.1" class="r"/>
<circle cx="669.8" cy="1242.2" r="7.1" class="r"/>
<circle cx="669.8" cy="1259.6" r="7.1" class="r"/>
</g>
<g id="pk" style="font-size:32.3px">
<polygon points="1141.3,1271.5 1142.3,1267.3 1178,1246.3 1220,1221.1 1262,1189.6 1358.6,1104.5 1365.4,1102.4 1365.4,1278.4" fill="#ececec"/>
<path d="M1122 1022.3V1291M1117.5 1291H1392.5" class="ax"/>
<path d="M1117 1291H1122M1117 1237.3H1122M1117 1183.5H1122M1117 1129.8H1122M1117 1076H1122M1117 1022.3H1122" class="ax"/>
<text x="1111.8" y="1302.6" text-anchor="end">0</text>
<text x="1111.8" y="1248.8" text-anchor="end">10</text>
<text x="1111.8" y="1195.1" text-anchor="end">20</text>
<text x="1111.8" y="1141.3" text-anchor="end">30</text>
<text x="1111.8" y="1087.6" text-anchor="end">40</text>
<text x="1111.8" y="1033.9" text-anchor="end">50</text>
<text x="1127.6" y="1337" text-anchor="middle">0</text>
<text x="1220.1" y="1337" text-anchor="middle">–</text>
<text x="1315.7" y="1337" text-anchor="middle">14</text>
<text x="1385.2" y="1337" text-anchor="middle">18+</text>
<text x="1257.3" y="1373.9" text-anchor="middle">Age (Years)</text>
<text x="1258.7" y="973.1" text-anchor="middle" style="font-size:32.8px">CCR6<tspan style="font-size:22.3px" dy="-13.8">+</tspan><tspan dy="13.8">CCR4</tspan><tspan style="font-size:22.3px" dy="-13.8">+</tspan><tspan dy="13.8">CXCR3</tspan><tspan style="font-size:24.3px" dy="-12.1">–</tspan></text>
<text transform="translate(1039.5 1151.3) rotate(-90)" text-anchor="middle">% CD4<tspan style="font-size:22.0px" dy="-13.6">+</tspan><tspan dy="13.6">CD25</tspan><tspan style="font-size:23.9px" dy="-12.0">–</tspan><tspan dy="12.0"> Memory</tspan></text>
<text x="958.8" y="978" class="L">k</text>
<circle cx="1133.3" cy="1270.4" r="6.5" class="w"/>
<circle cx="1163.3" cy="1253" r="6.5" class="w"/>
<circle cx="1203.6" cy="1231.6" r="6.5" class="w"/>
<circle cx="1203.6" cy="1235.8" r="6.5" class="w"/>
<circle cx="1203.6" cy="1238.9" r="6.5" class="w"/>
<circle cx="1217.3" cy="1248.4" r="6.5" class="w"/>
<circle cx="1217.3" cy="1252.6" r="6.5" class="w"/>
<circle cx="1217.3" cy="1256.8" r="6.5" class="w"/>
<circle cx="1243.8" cy="1202.2" r="6.5" class="w"/>
<circle cx="1243.8" cy="1216.9" r="6.5" class="w"/>
<circle cx="1257.4" cy="1205.3" r="6.5" class="w"/>
<circle cx="1257.4" cy="1228.4" r="6.5" class="w"/>
<circle cx="1257.4" cy="1236.8" r="6.5" class="w"/>
<circle cx="1270.9" cy="1235.2" r="6.5" class="w"/>
<circle cx="1284.3" cy="1228.9" r="6.5" class="w"/>
<circle cx="1311" cy="1233.7" r="6.5" class="w"/>
<circle cx="1364.5" cy="1097.2" r="6.5" class="w"/>
<circle cx="1364.5" cy="1154.5" r="6.5" class="w"/>
<circle cx="1364.5" cy="1178" r="6.5" class="w"/>
<circle cx="1364.5" cy="1183.9" r="6.5" class="w"/>
<circle cx="1364.5" cy="1201.1" r="6.5" class="w"/>
<circle cx="1364.5" cy="1206.4" r="6.5" class="w"/>
<circle cx="1364.5" cy="1210.6" r="6.5" class="w"/>
<circle cx="1364.5" cy="1216.9" r="6.5" class="w"/>
<circle cx="1364.5" cy="1226.3" r="6.5" class="w"/>
<circle cx="1364.5" cy="1230.5" r="6.5" class="w"/>
<circle cx="1364.5" cy="1234.7" r="6.5" class="w"/>
<circle cx="1364.5" cy="1238.9" r="6.5" class="w"/>
<circle cx="1364.5" cy="1243.1" r="6.5" class="w"/>
<circle cx="1364.5" cy="1248.4" r="6.5" class="w"/>
<circle cx="1364.5" cy="1260.4" r="6.5" class="w"/>
<circle cx="1364.5" cy="1276.7" r="6.5" class="w"/>
<circle cx="1364.5" cy="1278.8" r="6.5" class="w"/>
<circle cx="1149.7" cy="1069.9" r="7.1" class="r"/>
<circle cx="1149.7" cy="1075.1" r="7.1" class="r"/>
<circle cx="1149.7" cy="1148.6" r="7.1" class="r"/>
<circle cx="1142.9" cy="1179.1" r="7.1" class="r"/>
<circle cx="1142.9" cy="1185.4" r="7.1" class="r"/>
<circle cx="1142.9" cy="1190.6" r="7.1" class="r"/>
</g>
<g id="pl" style="font-size:31.6px">
<polygon points="1640.4,1292 1642.5,1280.4 1674,1252.7 1716,1244.7 1737,1232.1 1825.2,1151.3 1832,1149.2 1832,1292" fill="#ececec"/>
<path d="M1598 1031.7V1293M1593.5 1293H1859.6" class="ax"/>
<path d="M1593 1293H1598M1593 1240.7H1598M1593 1188.5H1598M1593 1136.2H1598M1593 1084H1598M1593 1031.7H1598" class="ax"/>
<text x="1587.8" y="1304.3" text-anchor="end">0</text>
<text x="1587.8" y="1252.1" text-anchor="end">10</text>
<text x="1587.8" y="1199.8" text-anchor="end">20</text>
<text x="1587.8" y="1147.5" text-anchor="end">30</text>
<text x="1587.8" y="1095.3" text-anchor="end">40</text>
<text x="1587.8" y="1043" text-anchor="end">50</text>
<text x="1599.7" y="1340.1" text-anchor="middle">0</text>
<text x="1688.9" y="1340.1" text-anchor="middle">–</text>
<text x="1782.7" y="1340.1" text-anchor="middle">14</text>
<text x="1850.7" y="1340.1" text-anchor="middle">18+</text>
<text x="1727.8" y="1374.1" text-anchor="middle">Age (Years)</text>
<text x="1728.9" y="972.3" text-anchor="middle" style="font-size:31.9px">CCR6<tspan style="font-size:21.7px" dy="-13.4">+</tspan><tspan dy="13.4">CXCR3</tspan><tspan style="font-size:21.7px" dy="-13.4">+</tspan><tspan dy="13.4">CCR4</tspan><tspan style="font-size:23.6px" dy="-11.8">–</tspan></text>
<text transform="translate(1517.6 1157.1) rotate(-90)" text-anchor="middle">% CD4<tspan style="font-size:21.5px" dy="-13.3">+</tspan><tspan dy="13.3">CD25</tspan><tspan style="font-size:23.4px" dy="-11.7">–</tspan><tspan dy="11.7"> Memory</tspan></text>
<circle cx="1606.8" cy="1293" r="6.5" class="w"/>
<circle cx="1636.2" cy="1282.6" r="6.5" class="w"/>
<circle cx="1675.5" cy="1255.2" r="6.5" class="w"/>
<circle cx="1675.5" cy="1262.6" r="6.5" class="w"/>
<circle cx="1675.5" cy="1276.2" r="6.5" class="w"/>
<circle cx="1688.7" cy="1259.4" r="6.5" class="w"/>
<circle cx="1688.7" cy="1273.1" r="6.5" class="w"/>
<circle cx="1688.7" cy="1279.4" r="6.5" class="w"/>
<circle cx="1715" cy="1268.5" r="6.5" class="w"/>
<circle cx="1715" cy="1273.1" r="6.5" class="w"/>
<circle cx="1728" cy="1243.1" r="6.5" class="w"/>
<circle cx="1728" cy="1261.5" r="6.5" class="w"/>
<circle cx="1728" cy="1266.8" r="6.5" class="w"/>
<circle cx="1741.2" cy="1288.8" r="6.5" class="w"/>
<circle cx="1754.5" cy="1256.3" r="6.5" class="w"/>
<circle cx="1780.1" cy="1272.7" r="6.5" class="w"/>
<circle cx="1832.2" cy="1145" r="6.5" class="w"/>
<circle cx="1832.2" cy="1165.6" r="6.5" class="w"/>
<circle cx="1832.2" cy="1176.5" r="6.5" class="w"/>
<circle cx="1832.2" cy="1188" r="6.5" class="w"/>
<circle cx="1832.2" cy="1192.2" r="6.5" class="w"/>
<circle cx="1832.2" cy="1195.4" r="6.5" class="w"/>
<circle cx="1832.2" cy="1198.5" r="6.5" class="w"/>
<circle cx="1832.2" cy="1206.9" r="6.5" class="w"/>
<circle cx="1832.2" cy="1210.1" r="6.5" class="w"/>
<circle cx="1832.2" cy="1213.2" r="6.5" class="w"/>
<circle cx="1832.2" cy="1216.4" r="6.5" class="w"/>
<circle cx="1832.2" cy="1226.9" r="6.5" class="w"/>
<circle cx="1832.2" cy="1234.2" r="6.5" class="w"/>
<circle cx="1832.2" cy="1242.6" r="6.5" class="w"/>
<circle cx="1832.2" cy="1244.7" r="6.5" class="w"/>
<circle cx="1832.2" cy="1255.2" r="6.5" class="w"/>
<circle cx="1832.2" cy="1269.9" r="6.5" class="w"/>
<circle cx="1832.2" cy="1275.2" r="6.5" class="w"/>
<circle cx="1832.2" cy="1280.4" r="6.5" class="w"/>
<circle cx="1832.2" cy="1291" r="6.5" class="w"/>
<circle cx="1616.3" cy="1264.7" r="7.1" class="r"/>
<circle cx="1616.3" cy="1267.8" r="7.1" class="r"/>
<circle cx="1616.3" cy="1271.4" r="7.1" class="r"/>
<circle cx="1623.2" cy="1290.5" r="7.1" class="r"/>
</g>
<circle cx="1923.5" cy="26.5" r="8.3" class="w" style="stroke-width:1.7"/>
<text x="1969" y="36.2" class="G">HD</text>
<circle cx="1923.5" cy="75.5" r="8.5" class="r"/>
<text x="1969.5" y="84.7" class="G">p.S550Y</text>
<circle cx="1919.7" cy="497.1" r="8.3" class="w" style="stroke-width:1.7"/>
<text x="1966" y="506.2" class="G">HD</text>
<circle cx="1920.1" cy="545.5" r="8.5" class="r"/>
<text x="1966.4" y="554.7" class="G">p.S550Y</text>
<circle cx="1919.6" cy="967.1" r="8.3" class="w" style="stroke-width:1.7"/>
<text x="1966" y="977.3" class="G">HD</text>
<circle cx="1919.9" cy="1015.7" r="8.5" class="r"/>
<text x="1966.4" y="1024.7" class="G">p.S550Y</text>
</svg>
</body></html>
